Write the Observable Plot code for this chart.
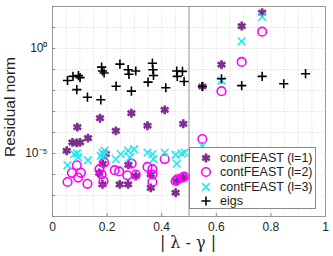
<!DOCTYPE html>
<html><head><meta charset="utf-8">
<script src="https://cdn.jsdelivr.net/npm/d3@7"></script>
<script src="https://cdn.jsdelivr.net/npm/@observablehq/plot@0.6"></script>
<style>
body{margin:0;background:#fff;font-family:"Liberation Sans",Arial,sans-serif;}
#wrap{position:relative;width:333px;height:256px;}
#legend{position:absolute;left:189px;top:147px;width:127px;height:62px;box-sizing:border-box;border:1px solid #8a8a8a;background:#fff;font-size:12.5px;color:#222;}
.row{position:absolute;left:0;height:14px;line-height:14px;white-space:nowrap;}
.row svg{position:absolute;left:8px;top:0;}
.row span{position:absolute;left:30px;top:0;}
</style></head><body>
<div id="wrap"><div id="chart"></div><div id="legend"></div></div>
<script>
// contFEAST (l=1)
const l1X = [0.052,0.073,0.089,0.101,0.091,0.130,0.174,0.232,0.289,0.348,0.411,0.479,0.549,0.619,0.693,0.768,
  0.171,0.183,0.184,0.246,0.277,0.278,0.305,0.360,0.360,0.451,0.455,0.479,0.195];
const l1Y = [1.35e-5,3.4e-5,3.2e-5,3.4e-5,1.8e-4,5.4e-5,4.8e-4,1.2e-4,8.3e-4,2.1e-4,1.2e-3,2.6e-4,1.55e-2,0.17,11.7,51,
  1.2e-6,3.4e-7,3.2e-6,3.4e-7,3.4e-7,2.9e-6,8.5e-7,1.0e-6,2.3e-7,1.35e-7,4.9e-7,7.1e-7,9.5e-6];
// contFEAST (l=2)
const l2X = [0.055,0.071,0.089,0.094,0.104,0.128,0.172,0.180,0.187,0.189,0.228,0.244,0.274,0.290,0.305,0.348,0.366,0.366,0.366,0.411,0.451,0.457,0.476,0.482,0.549,0.619,0.693,0.768];
const l2Y = [4.4e-7,1.2e-6,2.75e-6,7.1e-7,1.2e-6,3.6e-7,1.8e-6,1.0e-6,4.9e-7,3.7e-6,1.6e-6,1.4e-6,9.1e-7,3.3e-6,1.0e-6,2.3e-6,1.8e-6,1.0e-6,4.4e-7,5.4e-6,4.9e-7,5.9e-7,7.1e-7,7.9e-7,4.9e-5,9.3e-3,0.23,6.3];
// contFEAST (l=3)
const l3X = [0.055,0.079,0.094,0.090,0.130,0.177,0.183,0.191,0.189,0.232,0.250,0.277,0.284,0.299,0.348,0.366,0.370,0.411,0.451,0.455,0.473,0.484,0.549,0.619,0.693,0.768];
const l3Y = [2.75e-6,9.3e-6,6.5e-6,1.0e-5,4.8e-6,7.8e-6,1.1e-5,1.35e-5,8.7e-6,5.4e-6,9.3e-6,1.35e-5,6.5e-6,1.6e-5,1.1e-5,9.3e-6,5.4e-6,1.1e-5,8.7e-6,3.3e-6,1.0e-5,1.1e-5,2.3e-5,3.0e-2,2.2,32];
// eigs
const eX = [0.055,0.075,0.095,0.101,0.089,0.128,0.177,0.180,0.183,0.189,0.247,0.233,0.277,0.280,0.305,0.289,0.366,0.368,0.370,0.350,0.415,0.455,0.476,0.457,0.482,0.549,0.619,0.693,0.768,0.847,0.927];
const eY = [3.0e-2,4.7e-2,5.1e-2,4.1e-2,1.1e-2,4.8e-3,3.6e-3,0.13,8.5e-2,6.8e-2,0.18,1.6e-2,9.8e-2,5.9e-2,8.5e-2,9.3e-3,0.20,9.8e-2,5.2e-2,2.5e-2,1.35e-2,8.5e-2,8.1e-2,4.7e-2,2.7e-2,1.55e-2,3.6e-2,1.7e-2,4.7e-2,2.1e-2,6.3e-2];

const xTicks = [0,0.2,0.4,0.6,0.8,1];
const xGrid = d3.range(0,1.0001,0.05);
const yDecades = [1e-8,1e-7,1e-6,1e-5,1e-4,1e-3,1e-2,1e-1,1,10,100];
const yLabels = new Map([[1,"10⁰"],[1e-5,"10⁻⁵"]]);
const vLine = [0.5];

// thin line plus, like MATLAB '+'
const thinPlus = {draw(ctx, size){const r=Math.sqrt(size/Math.PI); ctx.moveTo(-r,0); ctx.lineTo(r,0); ctx.moveTo(0,-r); ctx.lineTo(0,r);}};

const series = [
  {name:"contFEAST (l=1)", xs:l1X, ys:l1Y, symbol:d3.symbolAsterisk, stroke:"#7E2F8E", r:4.2, sw:2.6},
  {name:"contFEAST (l=2)", xs:l2X, ys:l2Y, symbol:d3.symbolCircle, stroke:"#FF00FF", r:4.3, sw:1.6},
  {name:"contFEAST (l=3)", xs:l3X, ys:l3Y, symbol:d3.symbolTimes, stroke:"#22E8F0", r:3.6, sw:1.6},
  {name:"eigs", xs:eX, ys:eY, symbol:thinPlus, stroke:"#000", r:4.6, sw:1.6}
];

const marks = [
  Plot.ruleY(yDecades,{stroke:"#d0d0d0",strokeDasharray:"1,1.5",strokeWidth:0.8}),
  Plot.ruleX(xGrid,{stroke:"#d0d0d0",strokeDasharray:"1,1.5",strokeWidth:0.8}),
  Plot.ruleX(vLine,{stroke:"#999",strokeWidth:1}),
  Plot.frame({stroke:"#999"}),
  Plot.axisX({ticks:xTicks,tickSize:-3,tickPadding:9,tickFormat:d=>String(d),fontSize:12,stroke:"#888"}),
  Plot.axisY({ticks:yDecades,tickSize:-3,tickPadding:8,tickFormat:d=>yLabels.get(d)||"",fontSize:12,stroke:"#888"})
];
for (const s of series) {
  marks.push(Plot.dot(s.xs.map((x,i)=>({x,y:s.ys[i]})),{x:"x",y:"y",symbol:s.symbol,stroke:s.stroke,r:s.r,strokeWidth:s.sw,fill:"none"}));
}

const chart = Plot.plot({
  width:333, height:256,
  marginLeft:52, marginRight:8, marginTop:6, marginBottom:40,
  style:{fontFamily:"'Liberation Sans',Arial,sans-serif",color:"#262626",background:"#fff"},
  x:{domain:[0,1],label:null},
  y:{type:"log",domain:[1e-8,1e2],label:null},
  marks
});
document.getElementById("chart").appendChild(chart);

// axis titles
const svg = d3.select(chart);
svg.append("text").attr("x",188).attr("y",248).attr("text-anchor","middle")
  .attr("font-size",16).attr("fill","#262626").attr("font-family","'DejaVu Serif','Liberation Serif',serif").text("| λ - γ |");
svg.append("text").attr("transform","translate(15,107) rotate(-90)").attr("text-anchor","middle")
  .attr("font-size",15.5).attr("fill","#262626").text("Residual norm");

// legend
const leg = d3.select("#legend");
series.forEach((s,i)=>{
  const row = leg.append("div").attr("class","row").style("top",(3+i*14.3)+"px");
  const sv = row.append("svg").attr("width",16).attr("height",14);
  sv.append("path").attr("transform","translate(8,7)")
    .attr("d",d3.symbol(s.symbol, Math.PI*s.r*s.r)())
    .attr("fill","none").attr("stroke",s.stroke).attr("stroke-width",s.sw);
  row.append("span").text(s.name);
});
</script>
</body></html>
